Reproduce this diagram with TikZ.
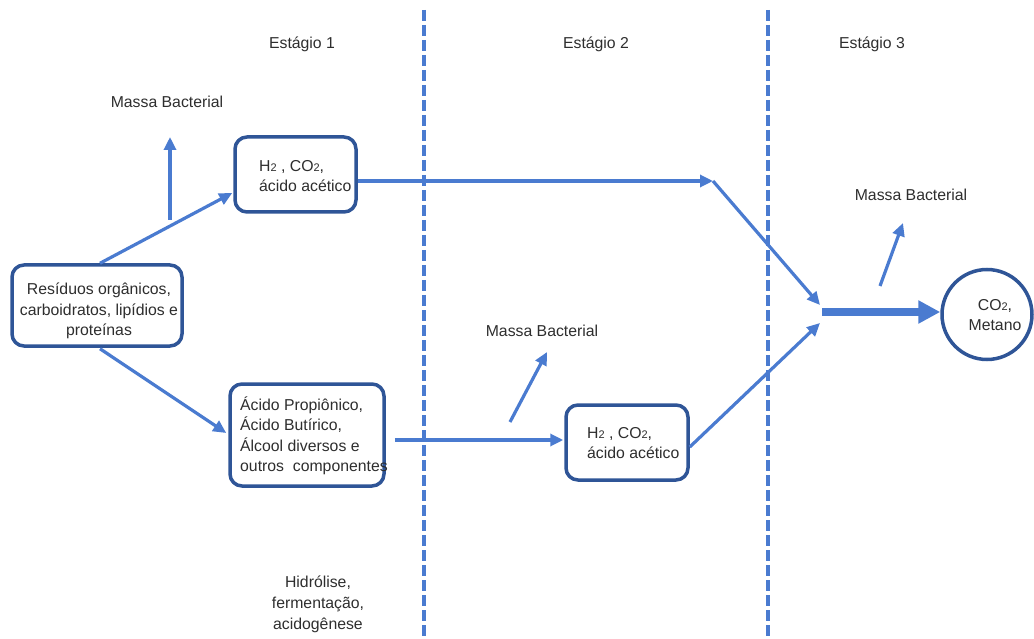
\documentclass[tikz,border=0pt]{standalone}
\usepackage{fontspec}
\setmainfont{Liberation Sans}
\usetikzlibrary{arrows.meta,calc}
\definecolor{arrowblue}{HTML}{4A7BD0}
\definecolor{boxblue}{HTML}{2F5597}
\definecolor{txtgray}{HTML}{2E2E2E}
\newcommand{\lsub}[1]{\raisebox{-0.8pt}{\fontsize{11}{11}\selectfont #1}}
\begin{document}
\begin{tikzpicture}[x=1pt,y=-1pt,
  txt/.style={font=\fontsize{15.8}{20.5}\selectfont, inner sep=0pt, text=txtgray},
  box/.style={draw=boxblue, line width=3.5pt, rounded corners=12pt, fill=white},
  arr/.style={draw=arrowblue, line width=3.2pt, -{Triangle[length=13pt,width=12pt]}},
  bigarr/.style={draw=arrowblue, line width=8pt, -{Triangle[length=22pt,width=22pt]}},
  sepline/.style={draw=arrowblue, line width=3.2pt, dash pattern=on 11pt off 4pt}]
\useasboundingbox (0,0) rectangle (1034,639);

% stage separators
\coordinate (s1t) at (424,10);
\coordinate (s1b) at (424,639);
\coordinate (s2t) at (768,10);
\coordinate (s2b) at (768,639);
\draw[sepline] (s1t) -- (s1b);
\draw[sepline] (s2t) -- (s2b);

% stage labels
\node[txt] (st1) at (302,44) {Estágio 1};
\node[txt] (st2) at (596,44) {Estágio 2};
\node[txt] (st3) at (872,44) {Estágio 3};

% boxes
\node[box, minimum width=170pt, minimum height=81pt] (A) at (97,305.5) {};
\node[box, minimum width=121pt, minimum height=75pt] (B) at (295.5,174.5) {};
\node[box, minimum width=154pt, minimum height=102pt] (C) at (307,435) {};
\node[box, minimum width=122pt, minimum height=75pt] (D) at (627,442.5) {};
\node[draw=boxblue, line width=3.5pt, circle, minimum size=90pt, fill=white] (E) at (987,314.5) {};

% box texts
\node[txt, align=center] (tA) at (99,311) {Resíduos orgânicos,\\carboidratos, lipídios e\\proteínas};
\node[txt, align=left, anchor=west] (tB) at (259,176) {H\lsub{2} , CO\lsub{2},\\ácido acético};
\node[txt, align=left, anchor=west] (tC) at (240,436) {Ácido Propiônico,\\Ácido Butírico,\\Álcool diversos e\\outros~ componentes};
\node[txt, align=left, anchor=west] (tD) at (587,443) {H\lsub{2} , CO\lsub{2},\\ácido acético};
\node[txt, align=center] (tE) at (995,315) {CO\lsub{2},\\Metano};

% Massa Bacterial labels
\node[txt] (mb1) at (167,102) {Massa Bacterial};
\node[txt] (mb2) at (542,331) {Massa Bacterial};
\node[txt] (mb3) at (911,195) {Massa Bacterial};

% helper coordinates
\coordinate (m1a) at (170,220);
\coordinate (m1b) at (170,137);
\coordinate (m2a) at (510,422);
\coordinate (m2b) at (547,352);
\coordinate (m3a) at (880,286);
\coordinate (m3b) at (903,223);
\coordinate (j1) at (713,181);
\coordinate (j2) at (820,305);
\coordinate (j3) at (820,323);
\coordinate (j4) at (822,312);

% connectors
\draw[arr] ($(A.north)+(3,0)$) -- ($(B.west)+(-1,18.5)$);
\draw[arr] ($(A.south)+(3,1)$) -- ($(C.west)+(-2,-2)$);
\draw[arr] (m1a) -- (m1b);
\draw[arr] ($(B.east)+(0,6.5)$) -- (j1);
\draw[arr] (j1) -- (j2);
\draw[arr] ($(C.east)+(9,5)$) -- ($(D.west)+(-1,-2.5)$);
\draw[arr] (m2a) -- (m2b);
\draw[arr] ($(D.east)+(0,4.5)$) -- (j3);
\draw[bigarr] (j4) -- (E.west |- j4);
\draw[arr] (m3a) -- (m3b);

% bottom caption
\node[txt, align=center, font=\fontsize{15.8}{21}\selectfont] (cap) at (318,604) {Hidrólise,\\fermentação,\\acidogênese};
\end{tikzpicture}
\end{document}
